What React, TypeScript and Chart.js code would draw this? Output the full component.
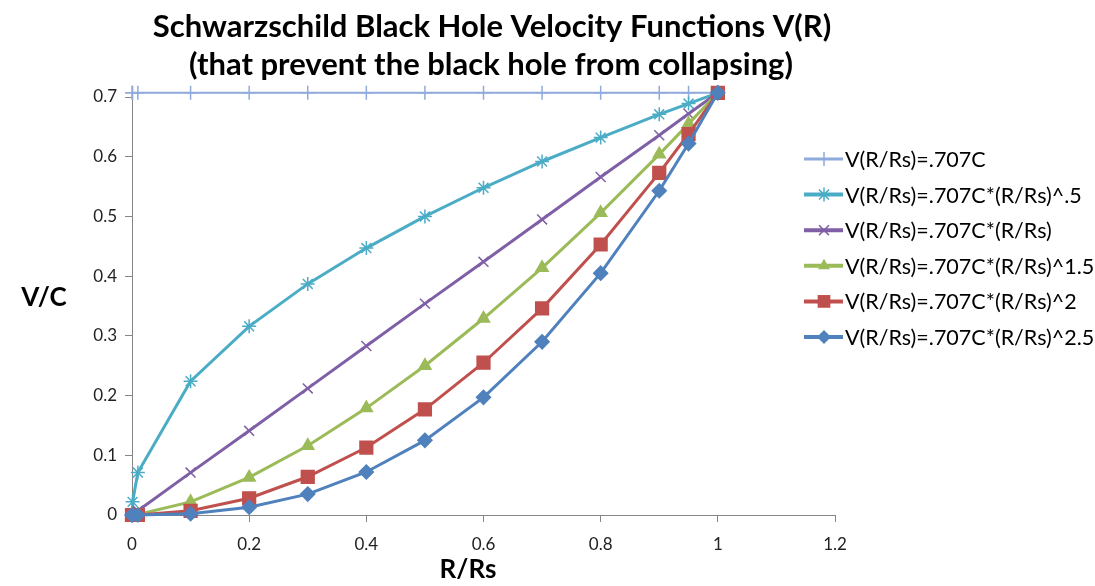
import React, { useEffect, useRef } from 'react';
import { Chart, registerables } from 'chart.js';

Chart.register(...registerables);

// ---- data ----
const xValues = [0, 0.001, 0.01, 0.1, 0.2, 0.3, 0.4, 0.5, 0.6, 0.7, 0.8, 0.9, 0.95, 1];
const vConst = [0.707, 0.707, 0.707, 0.707, 0.707, 0.707, 0.707, 0.707, 0.707, 0.707, 0.707, 0.707, 0.707, 0.707];
const vSqrt = [0, 0.022, 0.071, 0.224, 0.316, 0.387, 0.447, 0.5, 0.548, 0.592, 0.632, 0.671, 0.689, 0.707];
const vLinear = [0, 0.001, 0.007, 0.071, 0.141, 0.212, 0.283, 0.354, 0.424, 0.495, 0.566, 0.636, 0.672, 0.707];
const vPow15 = [0, 0, 0.001, 0.022, 0.063, 0.116, 0.179, 0.25, 0.329, 0.414, 0.506, 0.604, 0.655, 0.707];
const vPow2 = [0, 0, 0, 0.007, 0.028, 0.064, 0.113, 0.177, 0.255, 0.346, 0.453, 0.573, 0.638, 0.707];
const vPow25 = [0, 0, 0, 0.002, 0.013, 0.035, 0.072, 0.125, 0.197, 0.29, 0.405, 0.543, 0.622, 0.707];

const seriesLabels = [
  'V(R/Rs)=.707C',
  'V(R/Rs)=.707C*(R/Rs)^.5',
  'V(R/Rs)=.707C*(R/Rs)',
  'V(R/Rs)=.707C*(R/Rs)^1.5',
  'V(R/Rs)=.707C*(R/Rs)^2',
  'V(R/Rs)=.707C*(R/Rs)^2.5',
];
const seriesValues = [vConst, vSqrt, vLinear, vPow15, vPow2, vPow25];

const titleLines = ['Schwarzschild Black Hole Velocity Functions V(R)', '(that prevent the black hole from collapsing)'];
const xAxisTitle = 'R/Rs';
const yAxisTitle = 'V/C';

// ---- styles ----
const colors = ['#8FAADC', '#4BACC6', '#7F5FA5', '#9BBB59', '#C0504D', '#4F81BD'];
const pointStyles = ['cross', 'star', 'crossRot', 'triangle', 'rect', 'rectRot'];
const pointRadii = [7, 7, 7, 7, 9, 7];
const lineWidths = [2, 3, 3, 3, 3, 3];
const FONT = 'Lato, "Noto Sans", sans-serif';

function drawMarker(ctx: CanvasRenderingContext2D, style: string, x: number, y: number, r: number, color: string) {
  ctx.save();
  ctx.strokeStyle = color;
  ctx.fillStyle = color;
  ctx.lineWidth = 1.5;
  ctx.beginPath();
  if (style === 'cross' || style === 'star') {
    ctx.moveTo(x - r, y); ctx.lineTo(x + r, y);
    ctx.moveTo(x, y - r); ctx.lineTo(x, y + r);
  }
  if (style === 'crossRot' || style === 'star') {
    const d = r * Math.SQRT1_2;
    ctx.moveTo(x - d, y - d); ctx.lineTo(x + d, y + d);
    ctx.moveTo(x - d, y + d); ctx.lineTo(x + d, y - d);
  }
  if (style === 'cross' || style === 'star' || style === 'crossRot') {
    ctx.stroke();
  } else if (style === 'triangle') {
    ctx.moveTo(x, y - r);
    ctx.lineTo(x + r * 0.866, y + r * 0.5);
    ctx.lineTo(x - r * 0.866, y + r * 0.5);
    ctx.closePath();
    ctx.fill();
  } else if (style === 'rect') {
    const s = r * Math.SQRT1_2;
    ctx.rect(x - s, y - s, 2 * s, 2 * s);
    ctx.fill();
  } else if (style === 'rectRot') {
    ctx.moveTo(x, y - r); ctx.lineTo(x + r, y); ctx.lineTo(x, y + r); ctx.lineTo(x - r, y);
    ctx.closePath();
    ctx.fill();
  }
  ctx.restore();
}

const decorPlugin = {
  id: 'decor',
  afterDraw(chart: any) {
    const ctx: CanvasRenderingContext2D = chart.ctx;
    ctx.save();
    ctx.fillStyle = '#000';
    ctx.textAlign = 'center';
    ctx.textBaseline = 'middle';
    ctx.font = `bold 31px ${FONT}`;
    ctx.fillText(titleLines[0], 492, 27);
    ctx.fillText(titleLines[1], 491, 65);
    ctx.font = `bold 26px ${FONT}`;
    ctx.fillText(yAxisTitle, 44, 298);
    ctx.font = `bold 26px ${FONT}`;
    ctx.fillText(xAxisTitle, 468, 570);

    // legend
    ctx.textAlign = 'left';
    ctx.font = `21.5px ${FONT}`;
    for (let i = 0; i < seriesLabels.length; i++) {
      const y = 159 + i * 35.6;
      ctx.strokeStyle = colors[i];
      ctx.lineWidth = lineWidths[i] + 1;
      ctx.beginPath();
      ctx.moveTo(804, y);
      ctx.lineTo(843, y);
      ctx.stroke();
      drawMarker(ctx, pointStyles[i], 824, y, pointRadii[i], colors[i]);
      ctx.fillStyle = '#000';
      ctx.fillText(seriesLabels[i], 845, y + 1);
    }
    ctx.restore();
  },
};

export default function App() {
  const canvasRef = useRef<HTMLCanvasElement | null>(null);

  useEffect(() => {
    if (!canvasRef.current) return;
    const datasets = seriesLabels.map((label, i) => ({
      label,
      data: xValues.map((x, j) => ({ x, y: seriesValues[i][j] })),
      borderColor: colors[i],
      backgroundColor: colors[i],
      pointBorderColor: colors[i],
      pointBackgroundColor: colors[i],
      borderWidth: lineWidths[i],
      pointStyle: pointStyles[i],
      pointRadius: pointRadii[i],
      pointBorderWidth: 1.5,
      showLine: true,
      clip: false as any,
      order: seriesLabels.length - i,
    }));
    const chart = new Chart(canvasRef.current, {
      type: 'scatter',
      data: { datasets },
      plugins: [decorPlugin],
      options: {
        animation: false,
        responsive: true,
        maintainAspectRatio: false,
        layout: { padding: { top: 97, left: 0, right: 260, bottom: 0 } },
        plugins: {
          legend: { display: false },
          tooltip: { enabled: false },
          title: { display: false },
        },
        scales: {
          x: {
            type: 'linear',
            min: 0,
            max: 1.2,
            ticks: {
              stepSize: 0.2,
              color: '#222',
              font: { family: FONT, size: 17 },
              padding: 12,
              callback: (v: any) => String(Number(Number(v).toFixed(2))),
            },
            grid: { drawOnChartArea: false, drawTicks: true, tickLength: 7, color: '#868686' },
            border: { color: '#868686', width: 1 },
            afterFit: (scale: any) => { scale.height = 71; },
          },
          y: {
            type: 'linear',
            min: 0,
            max: 0.7,
            ticks: {
              stepSize: 0.1,
              color: '#222',
              font: { family: FONT, size: 17 },
              padding: 8,
              callback: (v: any) => String(Number(Number(v).toFixed(2))),
            },
            grid: { drawOnChartArea: false, drawTicks: true, tickLength: 7, color: '#868686' },
            border: { color: '#868686', width: 1 },
            afterFit: (scale: any) => { scale.width = 132; },
          },
        },
      },
    });
    return () => chart.destroy();
  }, []);

  return (
    <div style={{ position: 'fixed', left: 0, top: 0, width: 1095, height: 586, background: '#fff' }}>
      <canvas ref={canvasRef} />
    </div>
  );
}
